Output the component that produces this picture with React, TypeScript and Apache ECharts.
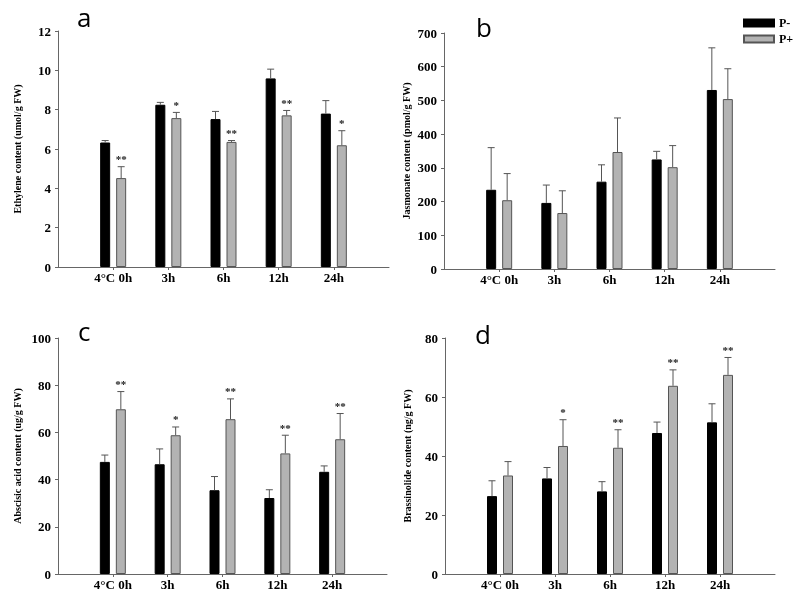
import React, { useEffect, useRef } from "react";
import * as echarts from "echarts";

const categories = ["4°C 0h", "3h", "6h", "12h", "24h"];
const seriesNames = ["P-", "P+"];

const ethyleneMinus = [6.33, 8.25, 7.52, 9.59, 7.8];
const ethyleneMinusErr = [0.1, 0.12, 0.39, 0.47, 0.66];
const ethylenePlus = [4.52, 7.57, 6.36, 7.71, 6.19];
const ethylenePlusErr = [0.58, 0.29, 0.07, 0.25, 0.74];
const ethyleneStars = ["**", "*", "**", "**", "*"];

const jasmonateMinus = [235, 196, 259, 325, 531];
const jasmonateMinusErr = [125, 53, 50, 24, 125];
const jasmonatePlus = [204, 166, 347, 302, 504];
const jasmonatePlusErr = [79, 66, 101, 64, 90];
const jasmonateStars = ["", "", "", "", ""];

const abaMinus = [47.5, 46.5, 35.5, 32.2, 43.3];
const abaMinusErr = [2.9, 6.5, 5.8, 3.5, 2.5];
const abaPlus = [69.8, 58.8, 65.6, 51.1, 57.1];
const abaPlusErr = [7.5, 3.5, 8.6, 7.7, 10.9];
const abaStars = ["**", "*", "**", "**", "**"];

const brMinus = [26.4, 32.4, 28.0, 47.8, 51.4];
const brMinusErr = [5.2, 3.7, 3.3, 3.7, 6.3];
const brPlus = [33.4, 43.4, 42.8, 63.8, 67.5];
const brPlusErr = [4.7, 8.9, 6.1, 5.4, 5.9];
const brStars = ["", "*", "**", "**", "**"];

const SERIF = "'Liberation Serif', 'Times New Roman', serif";
const SANS = "'Open Sans', 'Noto Sans', sans-serif";
const AXIS_COLOR = "#666";
const ERR_COLOR = "#555";
const BAR_W = 10;
const HALF_OFFSET = 8;

const panels = [
  {
    letter: "a", lx: 77, ly: 4,
    yName: "Ethylene content (umol/g FW)", max: 12, interval: 2,
    grid: { left: 58, top: 31, width: 331, height: 236 },
    minus: ethyleneMinus, minusErr: ethyleneMinusErr,
    plus: ethylenePlus, plusErr: ethylenePlusErr, stars: ethyleneStars,
  },
  {
    letter: "b", lx: 476, ly: 14,
    yName: "Jasmonate content (pmol/g FW)", max: 700, interval: 100,
    grid: { left: 444, top: 33, width: 331, height: 236 },
    minus: jasmonateMinus, minusErr: jasmonateMinusErr,
    plus: jasmonatePlus, plusErr: jasmonatePlusErr, stars: jasmonateStars,
  },
  {
    letter: "c", lx: 78, ly: 318,
    yName: "Abscisic acid content (ug/g FW)", max: 100, interval: 20,
    grid: { left: 58, top: 338, width: 329, height: 236 },
    minus: abaMinus, minusErr: abaMinusErr,
    plus: abaPlus, plusErr: abaPlusErr, stars: abaStars,
  },
  {
    letter: "d", lx: 475, ly: 321,
    yName: "Brassinolide content (ng/g FW)", max: 80, interval: 20,
    grid: { left: 445, top: 338, width: 330, height: 236 },
    minus: brMinus, minusErr: brMinusErr,
    plus: brPlus, plusErr: brPlusErr, stars: brStars,
  },
];

const paddedCats = ["", ...categories, ""];
const showMid = (i: number) => i > 0 && i < paddedCats.length - 1;

function errorSeries(pi: number, values: number[], errs: number[], stars: string[], offset: number) {
  return {
    type: "custom",
    xAxisIndex: pi,
    yAxisIndex: pi,
    silent: true,
    z: 5,
    itemStyle: { color: "#222" },
    data: values.map((v, i) => [i + 1, v, errs[i]]),
    renderItem: (params: any, api: any) => {
      const x = api.value(0);
      const v = api.value(1);
      const e = api.value(2);
      const base = api.coord([x, v]);
      const top = api.coord([x, v + e]);
      const cx = base[0] + offset;
      const children: any[] = [
        { type: "line", shape: { x1: cx, y1: base[1], x2: cx, y2: top[1] }, style: { stroke: ERR_COLOR, lineWidth: 1 } },
        { type: "line", shape: { x1: cx - 3.5, y1: top[1], x2: cx + 3.5, y2: top[1] }, style: { stroke: ERR_COLOR, lineWidth: 1 } },
      ];
      const s = stars[params.dataIndex];
      if (s) {
        children.push({
          type: "text",
          style: {
            text: s, x: cx, y: top[1] - 2, align: "center", verticalAlign: "bottom",
            fontFamily: SERIF, fontSize: 11, fontWeight: "bold",
            fill: "#222",
          },
        });
      }
      return { type: "group", children };
    },
  };
}

export default function App() {
  const ref = useRef<HTMLDivElement>(null);
  useEffect(() => {
    if (!ref.current) return;
    const chart = echarts.init(ref.current, undefined, { renderer: "svg" });
    const grids = panels.map((p) => ({ ...p.grid, containLabel: false }));
    const xAxes = panels.map((p, i) => ({
      type: "category",
      gridIndex: i,
      data: paddedCats,
      boundaryGap: false,
      axisLine: { lineStyle: { color: AXIS_COLOR, width: 1 } },
      axisTick: { show: true, interval: (idx: number) => showMid(idx), length: 3, lineStyle: { color: AXIS_COLOR } },
      axisLabel: {
        interval: (idx: number) => showMid(idx),
        margin: 4, color: "#000", fontFamily: SERIF, fontWeight: "bold", fontSize: 13,
      },
      splitLine: { show: false },
    }));
    const yAxes = panels.map((p, i) => ({
      type: "value",
      gridIndex: i,
      min: 0,
      max: p.max,
      interval: p.interval,
      name: p.yName,
      nameLocation: "middle",
      nameGap: i % 2 === 0 ? 36 : 33,
      nameTextStyle: { fontFamily: SERIF, fontWeight: "bold", fontSize: 10, color: "#000" },
      axisLine: { show: true, lineStyle: { color: AXIS_COLOR, width: 1 } },
      axisTick: { show: true, length: 3, lineStyle: { color: AXIS_COLOR } },
      axisLabel: { margin: 7, color: "#000", fontFamily: SERIF, fontWeight: "bold", fontSize: 13 },
      splitLine: { show: false },
    }));
    const series: any[] = [];
    panels.forEach((p, i) => {
      series.push({
        type: "bar", name: seriesNames[0], xAxisIndex: i, yAxisIndex: i,
        data: ["-", ...p.minus, "-"], barWidth: BAR_W, barGap: "60%",
        itemStyle: { color: "#000", borderColor: "#000", borderWidth: 1 },
      });
      series.push({
        type: "bar", name: seriesNames[1], xAxisIndex: i, yAxisIndex: i,
        data: ["-", ...p.plus, "-"], barWidth: BAR_W, barGap: "60%",
        itemStyle: { color: "#b3b3b3", borderColor: "#555", borderWidth: 1 },
      });
      series.push(errorSeries(i, p.minus, p.minusErr, p.minus.map(() => ""), -HALF_OFFSET));
      series.push(errorSeries(i, p.plus, p.plusErr, p.stars, HALF_OFFSET));
    });
    chart.setOption({
      animation: false,
      backgroundColor: "#fff",
      grid: grids,
      xAxis: xAxes,
      yAxis: yAxes,
      legend: {
        data: seriesNames,
        orient: "vertical",
        left: 743,
        top: 17,
        padding: 0,
        itemWidth: 30,
        itemHeight: 7,
        itemGap: 4,
        icon: "rect",
        textStyle: { fontFamily: SERIF, fontWeight: "bold", fontSize: 12, color: "#000" },
      },
      graphic: panels.map((p) => ({
        type: "text",
        x: p.lx,
        y: p.ly,
        style: { text: p.letter, fontFamily: SANS, fontSize: 26, fill: "#000", verticalAlign: "top" },
      })),
      series,
    });
    return () => chart.dispose();
  }, []);
  return (
    <div
      ref={ref}
      style={{ position: "fixed", left: 0, top: 0, width: 800, height: 602, willChange: "transform" }}
    />
  );
}
